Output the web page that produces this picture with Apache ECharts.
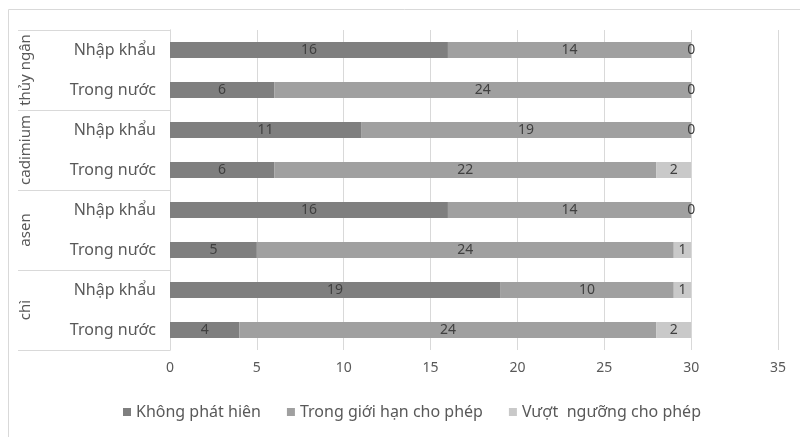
<!DOCTYPE html>
<html>
<head>
<meta charset="utf-8">
<script src="https://cdn.jsdelivr.net/npm/echarts@6/dist/echarts.min.js"></script>
<style>
html,body{margin:0;padding:0;background:#fff;}
#c{width:800px;height:437px;}
</style>
</head>
<body>
<div id="c"></div>
<script>
var groups = ['thủy ngân', 'cadimium', 'asen', 'chì'];
var rows = ['Nhập khẩu', 'Trong nước', 'Nhập khẩu', 'Trong nước', 'Nhập khẩu', 'Trong nước', 'Nhập khẩu', 'Trong nước'];
var seriesNames = ['Không phát hiên', 'Trong giới hạn cho phép', 'Vượt  ngưỡng cho phép'];
var khongPhatHien = [16, 6, 11, 6, 16, 5, 19, 4];
var trongGioiHan = [14, 24, 19, 22, 14, 24, 10, 24];
var vuotNguong = [0, 0, 0, 2, 0, 1, 1, 2];
var xTicks = [0, 5, 10, 15, 20, 25, 30, 35];

var FONT = 'Noto Sans, sans-serif';
var colors = ['#7f7f7f', '#a0a0a0', '#c9c9c9'];
var chart = echarts.init(document.getElementById('c'));
function mk(name, data, i) {
  return {
    name: name, type: 'bar', stack: 'a', data: data, barWidth: 16,
    itemStyle: {color: colors[i]},
    label: {show: true, position: 'inside', color: '#404040', fontSize: 14, fontFamily: FONT},
    emphasis: {disabled: true}
  };
}
chart.setOption({
  animation: false,
  textStyle: {fontFamily: FONT},
  graphic: [{type: 'rect', shape: {x: 8.5, y: 9.5, width: 800, height: 440}, style: {fill: 'none', stroke: '#d9d9d9', lineWidth: 1}, silent: true}],
  grid: {left: 170, top: 30, width: 608, height: 320},
  legend: {
    data: seriesNames, top: 399, left: 118, itemWidth: 8, itemHeight: 8, itemGap: 26,
    icon: 'rect', textStyle: {color: '#595959', fontSize: 16, fontFamily: FONT}
  },
  xAxis: {
    type: 'value', min: xTicks[0], max: xTicks[xTicks.length - 1], interval: 5,
    axisLine: {show: false}, axisTick: {show: false},
    splitLine: {lineStyle: {color: '#d9d9d9'}},
    axisLabel: {color: '#595959', fontSize: 14, margin: 11, fontFamily: FONT}
  },
  yAxis: [{
    type: 'category', data: rows, inverse: true, position: 'left',
    axisLine: {show: true, lineStyle: {color: '#d9d9d9'}}, axisTick: {show: false},
    axisLabel: {color: '#595959', fontSize: 16, margin: 14, interval: 0, fontFamily: FONT}
  }, {
    type: 'category', data: groups, inverse: true, position: 'left', offset: 0,
    axisLine: {show: true, lineStyle: {color: '#d9d9d9'}},
    axisTick: {show: true, length: 152, interval: 0, lineStyle: {color: '#d9d9d9'}},
    axisLabel: {color: '#595959', fontSize: 15, rotate: 90, margin: 137, interval: 0, fontFamily: FONT}
  }],
  series: [
    mk(seriesNames[0], khongPhatHien, 0),
    mk(seriesNames[1], trongGioiHan, 1),
    mk(seriesNames[2], vuotNguong, 2)
  ]
});
</script>
</body>
</html>
